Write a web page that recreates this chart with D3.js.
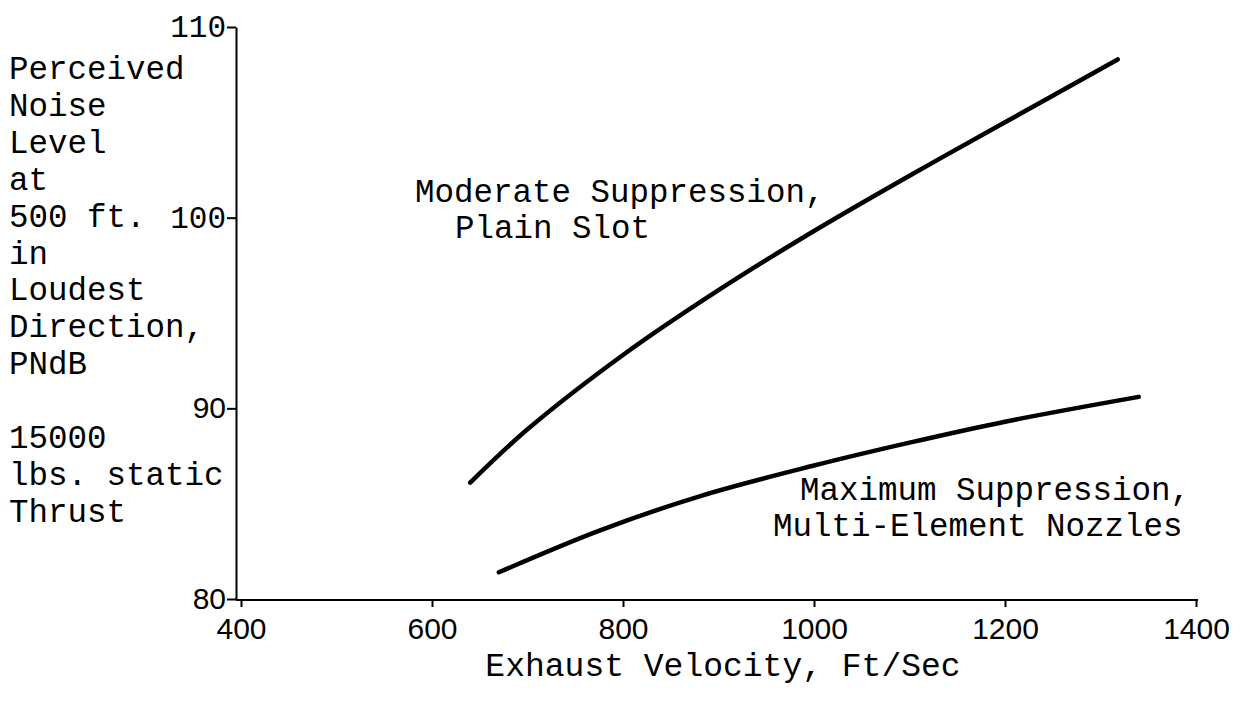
<!DOCTYPE html>
<html><head><meta charset="utf-8">
<script src="https://cdn.jsdelivr.net/npm/d3@7"></script>
<style>
body{margin:0;background:#fff;}
svg{display:block;}
.mono{font-family:"Liberation Mono","DejaVu Sans Mono",monospace;}
.sans{font-family:"Liberation Sans",Arial,sans-serif;}
</style></head>
<body>
<svg id="c" width="1252" height="704"></svg>
<script>
// Data
const xTicks = [400, 600, 800, 1000, 1200, 1400];
const yTicks = [80, 90, 100, 110];
const moderateX = [640, 700, 800, 900, 1000, 1100, 1200, 1318];
const moderateY = [86.1, 88.9, 92.8, 96.2, 99.3, 102.2, 105.0, 108.3];
const maximumX = [670, 776, 881, 1000, 1100, 1200, 1340];
const maximumY = [81.4, 83.6, 85.4, 87.0, 88.2, 89.3, 90.6];
const yLabelLines = ["Perceived","Noise","Level","at","500 ft.","in","Loudest","Direction,","PNdB","","15000","lbs. static","Thrust"];
const xTitle = "Exhaust Velocity, Ft/Sec";
const moderateLabel = ["Moderate Suppression,", "Plain Slot"];
const maximumLabel = ["Maximum Suppression,", "Multi-Element Nozzles"];

const svg = d3.select("#c");
const x = d3.scaleLinear().domain([400, 1400]).range([241, 1196]);
const y = d3.scaleLinear().domain([80, 110]).range([599, 27]);
const axisX = 236;
const fs = 32.5;

// X axis
const gx = svg.append("g").attr("transform", "translate(0,600)")
  .call(d3.axisBottom(x).tickValues(xTicks).tickSize(7).tickSizeOuter(0).tickFormat(d3.format("d")));
gx.select(".domain").remove();
gx.append("line").attr("x1", axisX).attr("x2", x(1400) + 2).attr("y1", 0).attr("y2", 0)
  .attr("stroke", "#000").attr("stroke-width", 2);
gx.selectAll(".tick line").attr("stroke", "#000").attr("stroke-width", 2);
gx.selectAll(".tick text").attr("class", "sans").attr("font-size", 30).attr("fill", "#000").attr("dy", "0.85em").attr("y", 13);

// Y axis
const gy = svg.append("g").attr("transform", `translate(${axisX},0)`)
  .call(d3.axisLeft(y).tickValues(yTicks).tickSize(9).tickSizeOuter(0).tickFormat(d3.format("d")));
gy.select(".domain").attr("stroke", "#000").attr("stroke-width", 2);
gy.selectAll(".tick line").attr("stroke", "#000").attr("stroke-width", 2);
gy.selectAll(".tick text")
  .attr("class", d => d >= 100 ? "mono" : "sans")
  .attr("font-size", d => d >= 100 ? 31 : 30)
  .attr("fill", "#000").attr("x", -10);

// Curves
const line = d3.line().x(d => x(d[0])).y(d => y(d[1])).curve(d3.curveCatmullRom.alpha(0.5));
svg.append("path").datum(d3.zip(moderateX, moderateY))
  .attr("d", line).attr("fill", "none").attr("stroke", "#000").attr("stroke-width", 4.5).attr("stroke-linecap", "round");
svg.append("path").datum(d3.zip(maximumX, maximumY))
  .attr("d", line).attr("fill", "none").attr("stroke", "#000").attr("stroke-width", 4.5).attr("stroke-linecap", "round");

// Y label block
svg.append("g").selectAll("text").data(yLabelLines).join("text")
  .attr("class", "mono").attr("font-size", fs).attr("fill", "#000")
  .attr("x", 9).attr("y", (d, i) => 79 + i * 36.9).text(d => d);

// Annotations
svg.append("text").attr("class", "mono").attr("font-size", fs).attr("x", 415).attr("y", 202).text(moderateLabel[0]);
svg.append("text").attr("class", "mono").attr("font-size", fs).attr("x", 455).attr("y", 238).text(moderateLabel[1]);
svg.append("text").attr("class", "mono").attr("font-size", fs).attr("x", 800).attr("y", 500).text(maximumLabel[0]);
svg.append("text").attr("class", "mono").attr("font-size", fs).attr("x", 773).attr("y", 536).text(maximumLabel[1]);

// X title
svg.append("text").attr("class", "mono").attr("font-size", 33).attr("text-anchor", "middle")
  .attr("x", 723).attr("y", 676).text(xTitle);
</script>
</body></html>
